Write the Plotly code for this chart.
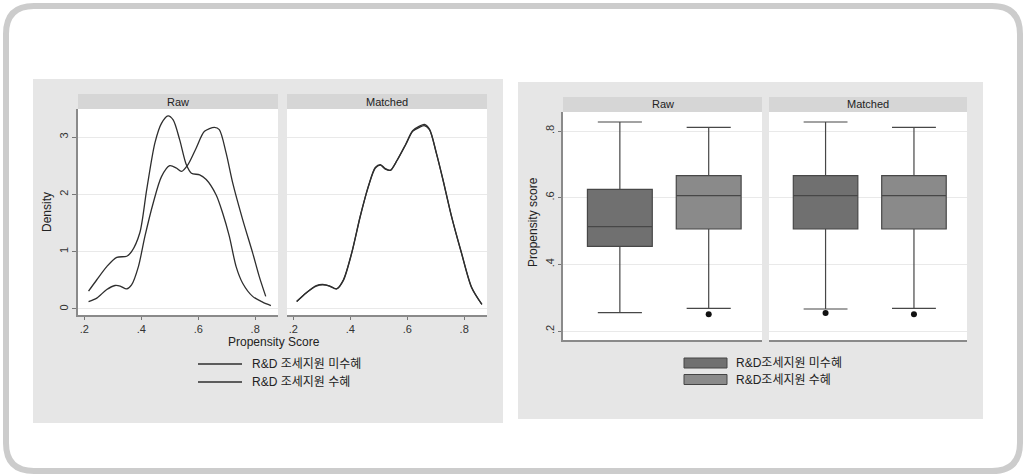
import plotly.graph_objects as go

W, H = 1025, 475

# ---------------- data ----------------
# Kernel density, Raw panel
raw_untreated_x = [0.215, 0.244, 0.279, 0.314, 0.349, 0.366, 0.395, 0.419, 0.448, 0.471, 0.494,
                   0.512, 0.535, 0.558, 0.576, 0.605, 0.628, 0.663, 0.686, 0.709, 0.733, 0.756,
                   0.791, 0.826, 0.855]
raw_untreated_y = [0.31, 0.51, 0.74, 0.90, 0.92, 1.00, 1.33, 2.08, 2.90, 3.24, 3.37,
                   3.30, 2.95, 2.52, 2.37, 2.34, 2.26, 1.99, 1.67, 1.27, 0.74, 0.45,
                   0.22, 0.12, 0.06]
raw_treated_x = [0.215, 0.244, 0.279, 0.308, 0.326, 0.349, 0.366, 0.390, 0.413, 0.442, 0.471,
                 0.500, 0.523, 0.541, 0.564, 0.593, 0.622, 0.657, 0.674, 0.698, 0.721, 0.756,
                 0.791, 0.814, 0.837]
raw_treated_y = [0.13, 0.19, 0.34, 0.41, 0.40, 0.35, 0.42, 0.74, 1.27, 1.85, 2.31,
                 2.50, 2.46, 2.40, 2.52, 2.81, 3.10, 3.17, 3.13, 2.72, 2.20, 1.56,
                 0.98, 0.57, 0.22]
# Kernel density, Matched panel
matched_untreated_x = [0.212, 0.245, 0.281, 0.304, 0.328, 0.352, 0.376, 0.405, 0.435, 0.464, 0.488,
                       0.506, 0.523, 0.541, 0.565, 0.595, 0.619, 0.643, 0.660, 0.678, 0.702, 0.725,
                       0.755, 0.790, 0.826, 0.862]
matched_untreated_y = [0.13, 0.28, 0.40, 0.42, 0.40, 0.35, 0.51, 0.98, 1.62, 2.14, 2.46,
                       2.51, 2.44, 2.42, 2.60, 2.87, 3.10, 3.17, 3.20, 3.13, 2.72, 2.26,
                       1.62, 0.98, 0.37, 0.08]
matched_treated_x = [0.212, 0.245, 0.281, 0.304, 0.328, 0.352, 0.376, 0.405, 0.435, 0.464, 0.488,
                     0.506, 0.523, 0.541, 0.565, 0.595, 0.619, 0.643, 0.660, 0.678, 0.702, 0.725,
                     0.755, 0.790, 0.826, 0.862]
matched_treated_y = [0.13, 0.28, 0.41, 0.43, 0.40, 0.35, 0.50, 0.97, 1.61, 2.15, 2.47,
                     2.52, 2.45, 2.42, 2.60, 2.88, 3.11, 3.19, 3.22, 3.14, 2.73, 2.27,
                     1.63, 0.99, 0.38, 0.08]

# Box plot statistics: [untreated, treated]
box_pos = [1, 2]
raw_q1 = [0.454, 0.506]
raw_median = [0.513, 0.606]
raw_q3 = [0.625, 0.666]
raw_lower = [0.255, 0.268]
raw_upper = [0.827, 0.811]
raw_outliers = [[], [0.250]]
matched_q1 = [0.506, 0.506]
matched_median = [0.606, 0.606]
matched_q3 = [0.666, 0.666]
matched_lower = [0.266, 0.268]
matched_upper = [0.827, 0.811]
matched_outliers = [[0.254], [0.250]]

density_yticks = [0, 1, 2, 3]
density_ytext = ["0", "1", "2", "3"]
density_xticks = [0.2, 0.4, 0.6, 0.8]
density_xtext = [".2", ".4", ".6", ".8"]
box_yticks = [0.2, 0.4, 0.6, 0.8]
box_ytext = [".2", ".4", ".6", ".8"]

panel_titles = ["Raw", "Matched"]
left_legend = ["R&D 조세지원 미수혜", "R&D 조세지원 수혜"]
right_legend = ["R&D조세지원 미수혜", "R&D조세지원 수혜"]

# ---------------- helpers ----------------
def px(x):
    return x / W

def py(y):
    return 1 - y / H

FONT = "Liberation Sans, Arial, Noto Sans CJK KR, sans-serif"
TXT = "#333333"
LINE = "#2e2e2e"
GRID = "#e9e9e9"
BOX_FILL = ["#707070", "#8a8a8a"]

fig = go.Figure()

# density traces
for xs, ys, ax in [(raw_untreated_x, raw_untreated_y, 1), (raw_treated_x, raw_treated_y, 1),
                   (matched_untreated_x, matched_untreated_y, 2), (matched_treated_x, matched_treated_y, 2)]:
    fig.add_trace(go.Scatter(x=xs, y=ys, mode="lines", line=dict(color=LINE, width=1.3, shape="spline", smoothing=0.8),
                             xaxis="x" if ax == 1 else "x2", yaxis="y" if ax == 1 else "y2",
                             showlegend=False, hoverinfo="skip"))

# box traces
for panel, (q1, med, q3, lo, up, outl) in enumerate([
        (raw_q1, raw_median, raw_q3, raw_lower, raw_upper, raw_outliers),
        (matched_q1, matched_median, matched_q3, matched_lower, matched_upper, matched_outliers)]):
    xa = "x3" if panel == 0 else "x4"
    ya = "y3" if panel == 0 else "y4"
    for i in range(2):
        fig.add_trace(go.Box(x=[box_pos[i]], q1=[q1[i]], median=[med[i]], q3=[q3[i]],
                             lowerfence=[lo[i]], upperfence=[up[i]], width=0.73, whiskerwidth=0.68,
                             fillcolor=BOX_FILL[i], line=dict(color="#474747", width=1.2),
                             boxpoints=False, xaxis=xa, yaxis=ya, showlegend=False, hoverinfo="skip"))
        if outl[i]:
            fig.add_trace(go.Scatter(x=[box_pos[i]] * len(outl[i]), y=outl[i], mode="markers",
                                     marker=dict(color="#111111", size=6), xaxis=xa, yaxis=ya,
                                     showlegend=False, hoverinfo="skip"))

# ---------------- layout ----------------
tickfont = dict(family=FONT, size=11, color=TXT)

def dens_x(domain, anchor):
    return dict(domain=domain, anchor=anchor, range=[0.178, 0.88], tickvals=density_xticks,
                ticktext=density_xtext, ticks="outside", ticklen=3, tickcolor="#777",
                showline=True, linecolor="#8a8a8a", linewidth=1.5, showgrid=False, zeroline=False,
                tickfont=tickfont, fixedrange=True)

def dens_y(anchor, labels):
    d = dict(domain=[py(315), py(109)], anchor=anchor, range=[-0.105, 3.49], tickvals=density_yticks,
             ticktext=density_ytext, showgrid=True, gridcolor=GRID, gridwidth=1, zeroline=False,
             tickfont=tickfont, tickangle=-90, fixedrange=True)
    if labels:
        d.update(ticks="outside", ticklen=4, tickcolor="#777", showline=True, linecolor="#8a8a8a",
                 linewidth=1.5, ticklabelstandoff=0)
    else:
        d.update(showticklabels=False, showline=False)
    return d

def box_x(domain, anchor):
    return dict(domain=domain, anchor=anchor, range=[0.36, 2.6], showticklabels=False, ticks="",
                showline=True, linecolor="#8a8a8a", linewidth=1.5, showgrid=False, zeroline=False,
                fixedrange=True)

def box_y(anchor, labels):
    d = dict(domain=[py(340), py(112)], anchor=anchor, range=[0.173, 0.857], tickvals=box_yticks,
             ticktext=box_ytext, showgrid=True, gridcolor=GRID, gridwidth=1, zeroline=False,
             tickfont=tickfont, tickangle=-90, fixedrange=True)
    if labels:
        d.update(ticks="outside", ticklen=3, tickcolor="#777", showline=True, linecolor="#8a8a8a",
                 linewidth=1.5, ticklabelstandoff=0)
    else:
        d.update(showticklabels=False, showline=False)
    return d

shapes = []
annotations = []

def note(x, y, text, size=12, angle=0, xanchor="center", color="#222"):
    annotations.append(dict(x=px(x), y=py(y), xref="paper", yref="paper", text=text, textangle=angle,
                            xanchor=xanchor, yanchor="middle", showarrow=False,
                            font=dict(family=FONT, size=size, color=color)))

def rounded(xa, ya, xb, yb, rad):
    def P(x, y):
        return f"{px(x):.5f},{py(y):.5f}"
    return (f"M {P(xa + rad, ya)} L {P(xb - rad, ya)} Q {P(xb, ya)} {P(xb, ya + rad)} "
            f"L {P(xb, yb - rad)} Q {P(xb, yb)} {P(xb - rad, yb)} L {P(xa + rad, yb)} "
            f"Q {P(xa, yb)} {P(xa, yb - rad)} L {P(xa, ya + rad)} Q {P(xa, ya)} {P(xa + rad, ya)} Z")

# outer rounded frame
shapes.append(dict(type="path", xref="paper", yref="paper", path=rounded(6, 6, 1020, 471, 28),
                   line=dict(color="#cccccc", width=6), fillcolor="white", layer="below"))

# gray chart backgrounds
shapes.append(dict(type="rect", xref="paper", yref="paper", x0=px(33), x1=px(503), y0=py(423), y1=py(79),
                   fillcolor="#e6e6e6", line=dict(width=0), layer="below"))
shapes.append(dict(type="rect", xref="paper", yref="paper", x0=px(518), x1=px(983), y0=py(419), y1=py(82),
                   fillcolor="#e6e6e6", line=dict(width=0), layer="below"))

# white plot regions + strip headers
left_panels = [(78, 278), (287, 487)]
right_panels = [(563, 762), (769, 967)]
for (a, b), title in zip(left_panels, panel_titles):
    shapes.append(dict(type="rect", xref="paper", yref="paper", x0=px(a), x1=px(b), y0=py(316), y1=py(109),
                       fillcolor="white", line=dict(width=0), layer="below"))
    shapes.append(dict(type="rect", xref="paper", yref="paper", x0=px(a), x1=px(b), y0=py(109), y1=py(94),
                       fillcolor="#d6d6d6", line=dict(width=0), layer="below"))
    note((a + b) / 2, 101.5, title, size=11)
for (a, b), title in zip(right_panels, panel_titles):
    shapes.append(dict(type="rect", xref="paper", yref="paper", x0=px(a), x1=px(b), y0=py(341), y1=py(112),
                       fillcolor="white", line=dict(width=0), layer="below"))
    shapes.append(dict(type="rect", xref="paper", yref="paper", x0=px(a), x1=px(b), y0=py(112), y1=py(97),
                       fillcolor="#d6d6d6", line=dict(width=0), layer="below"))
    note((a + b) / 2, 104.5, title, size=11)

# axis titles
note(274, 342, "Propensity Score")
note(47, 212, "Density", angle=-90)
note(533, 222, "Propensity score", angle=-90)

# left legend (line keys)
for lab, yy in zip(left_legend, [364, 382]):
    shapes.append(dict(type="line", xref="paper", yref="paper", x0=px(198), x1=px(242), y0=py(yy), y1=py(yy),
                       line=dict(color=LINE, width=1.3)))
    note(250, yy, lab, xanchor="left")
# right legend (box keys)
for i, (lab, yy) in enumerate(zip(right_legend, [363, 379.5])):
    shapes.append(dict(type="rect", xref="paper", yref="paper", x0=px(684), x1=px(727), y0=py(yy + 5), y1=py(yy - 5),
                       fillcolor=BOX_FILL[i], line=dict(color="#444444", width=1)))
    note(734, yy, lab, xanchor="left")

fig.update_layout(
    width=W, height=H, autosize=False,
    margin=dict(l=0, r=0, t=0, b=0),
    paper_bgcolor="white", plot_bgcolor="rgba(0,0,0,0)",
    font=dict(family=FONT, color=TXT),
    showlegend=False,
    xaxis=dens_x([px(78), px(278)], "y"),
    yaxis=dens_y("x", True),
    xaxis2=dens_x([px(287), px(487)], "y2"),
    yaxis2=dens_y("x2", False),
    xaxis3=box_x([px(563), px(762)], "y3"),
    yaxis3=box_y("x3", True),
    xaxis4=box_x([px(769), px(967)], "y4"),
    yaxis4=box_y("x4", False),
    shapes=shapes,
    annotations=annotations,
)

fig.write_html("out.html", config={"displayModeBar": False},
               post_script="document.body.style.margin='0';document.body.style.overflow='hidden';")
